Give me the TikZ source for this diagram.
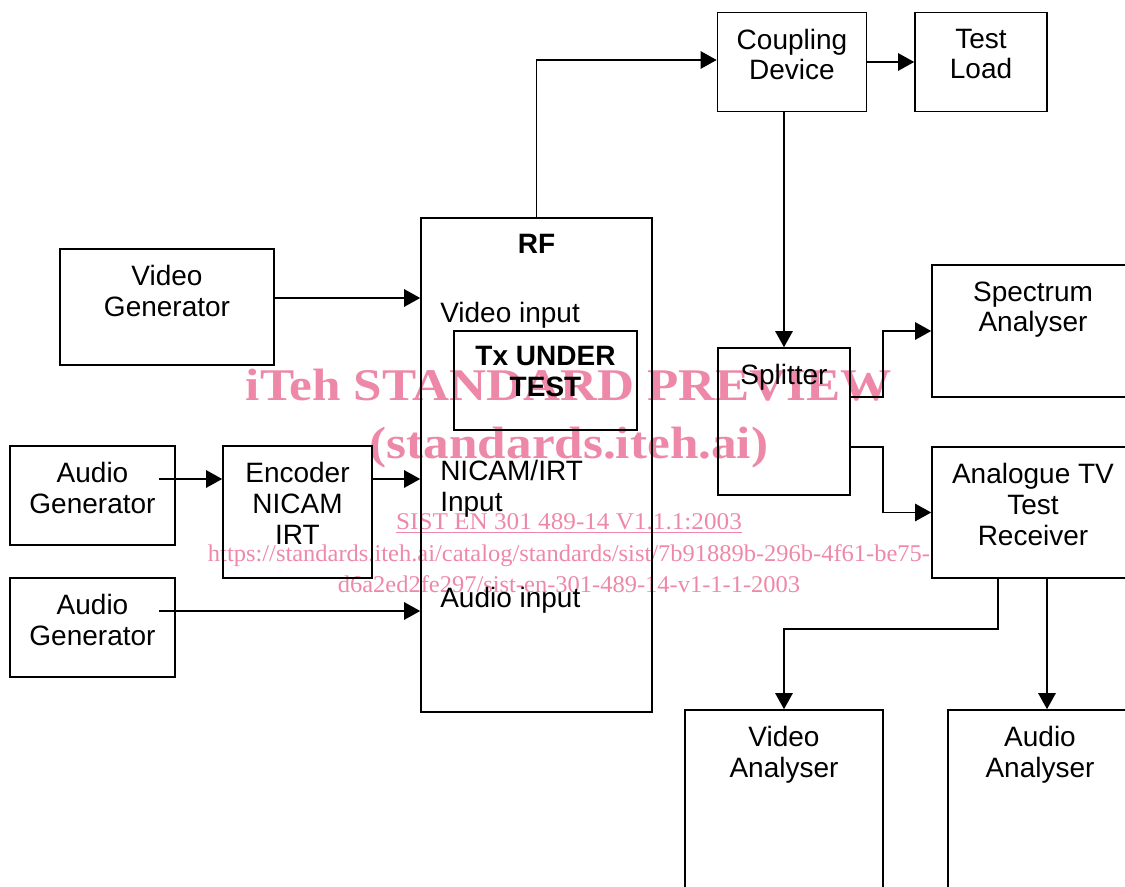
\documentclass[tikz,border=0pt]{standalone}
\usepackage{fontspec}
\setmainfont{Liberation Sans}
\newfontfamily\wmfont{Liberation Serif}
\usepackage{tikz}
\usetikzlibrary{arrows.meta, positioning}
\definecolor{wmpink}{RGB}{238,136,168}

\begin{document}
\begin{tikzpicture}[
    x=0.75pt, y=-0.75pt,
    box/.style={draw, line width=1.2pt, inner sep=0pt},
    lbl/.style={inner sep=0pt, align=center, font=\fontsize{21}{23}\selectfont},
    lblb/.style={lbl, font=\fontsize{21}{23}\bfseries\selectfont},
    inlbl/.style={lbl, align=left, anchor=north west},
    wmark/.style={inner sep=0pt, anchor=base, text=wmpink},
    arrow/.style={-{Triangle[length=12pt, width=13pt]}, line width=1.2pt}
]
    \clip (0,0) rectangle (1125,887);

    % watermark, behind the drawing
    \node[wmark, font=\wmfont\fontsize{34}{36}\bfseries\selectfont] (wm1) at (569,401) {\scalebox{1.13}[1]{iTeh STANDARD PREVIEW}};
    \node[wmark, font=\wmfont\fontsize{34}{36}\bfseries\selectfont] (wm2) at (569,459) {\scalebox{1.13}[1]{(standards.iteh.ai)}};
    \node[wmark, font=\wmfont\fontsize{18}{20}\selectfont] (wm3) at (569,530) {\scalebox{1.05}[1]{\underline{SIST EN 301 489-14 V1.1.1:2003}}};
    \node[wmark, font=\wmfont\fontsize{18}{20}\selectfont] (wm4) at (569,562) {\scalebox{1.02}[1]{https://standards.iteh.ai/catalog/standards/sist/7b91889b-296b-4f61-be75-}};
    \node[wmark, font=\wmfont\fontsize{18}{20}\selectfont] (wm5) at (569,593) {\scalebox{1.02}[1]{d6a2ed2fe297/sist-en-301-489-14-v1-1-1-2003}};

    % boxes
    \node[box, minimum width=160.5pt, minimum height=87pt] (vgen) at (167,307) {};
    \node[box, minimum width=173.25pt, minimum height=370.5pt] (rf) at (536.5,465) {};
    \node[box, minimum width=137.25pt, minimum height=74.25pt] (tx) at (545.5,380.5) {};
    \node[box, minimum width=123.75pt, minimum height=74.25pt] (agen1) at (92.5,495.5) {};
    \node[box, minimum width=111.75pt, minimum height=99pt] (enc) at (297.5,512) {};
    \node[box, minimum width=123.75pt, minimum height=74.25pt] (agen2) at (92.5,627.5) {};
    \node[box, minimum width=111.75pt, minimum height=74.25pt] (coup) at (792,62) {};
    \node[box, minimum width=99pt, minimum height=74.25pt] (load) at (981,62) {};
    \node[box, minimum width=99pt, minimum height=110.25pt] (split) at (784,421.5) {};
    \node[box, minimum width=151.5pt, minimum height=99pt] (spec) at (1033,331) {};
    \node[box, minimum width=151.5pt, minimum height=98.25pt] (atv) at (1033,512.5) {};
    \node[box, minimum width=148.5pt, minimum height=165pt] (van) at (784,820) {};
    \node[box, minimum width=138pt, minimum height=165pt] (aan) at (1040,820) {};

    % box texts
    \node[lbl, below=12.75pt of vgen.north] (vgen-t) {Video\\Generator};
    \node[lblb, below=12.75pt of rf.north] (rf-t) {RF};
    \node[lblb, below=12pt of tx.north] (tx-t) {Tx UNDER\\TEST};
    \node[lbl, below=12.75pt of agen1.north] (agen1-t) {Audio\\Generator};
    \node[lbl, below=12.75pt of enc.north] (enc-t) {Encoder\\NICAM\\IRT};
    \node[lbl, below=12.75pt of agen2.north] (agen2-t) {Audio\\Generator};
    \node[lbl, below=12.75pt of coup.north] (coup-t) {Coupling\\Device};
    \node[lbl, below=12.75pt of load.north] (load-t) {Test\\Load};
    \node[lbl, below=12.75pt of split.north] (split-t) {Splitter};
    \node[lbl, below=12.75pt of spec.north] (spec-t) {Spectrum\\Analyser};
    \node[lbl, below=12.75pt of atv.north] (atv-t) {Analogue TV\\Test\\Receiver};
    \node[lbl, below=12.75pt of van.north] (van-t) {Video\\Analyser};
    \node[lbl, below=12.75pt of aan.north] (aan-t) {Audio\\Analyser};

    % inputs of the transmitter
    \node[inlbl] (vin) at (440,302) {Video input};
    \node[inlbl] (nin) at (440,460) {NICAM/IRT\\Input};
    \node[inlbl] (ain) at (440,587) {Audio input};

    % connections
    \draw[arrow] ([yshift=6.75pt]vgen.east) coordinate (v1) -- (v1 -| rf.west);
    \draw[arrow] ([shift={(-17,-16.5)}]agen1.east) coordinate (a1) -- (a1 -| enc.west);
    \draw[arrow] (a1 -| enc.east) -- (a1 -| rf.west);
    \draw[arrow] ([shift={(-17,-16.5)}]agen2.east) coordinate (a2) -- (a2 -| rf.west);
    \draw[arrow] (rf.north) |- ([yshift=1.5pt]coup.west);
    \draw[arrow] (coup.east) -- (load.west);
    \draw[arrow] (split.north |- coup.south) -- (split.north);
    \draw[arrow] ([yshift=18.4pt]split.east) -- ++(32,0) |- (spec.west);
    \draw[arrow] ([yshift=-19pt]split.east) -- ++(32,0) |- (atv.west);
    \draw[arrow] ([xshift=-26.25pt]atv.south) -- ++(0,50) -| (van.north);
    \draw[arrow] ([xshift=5.25pt]aan.north |- atv.south) -- ([xshift=5.25pt]aan.north);
\end{tikzpicture}
\end{document}
